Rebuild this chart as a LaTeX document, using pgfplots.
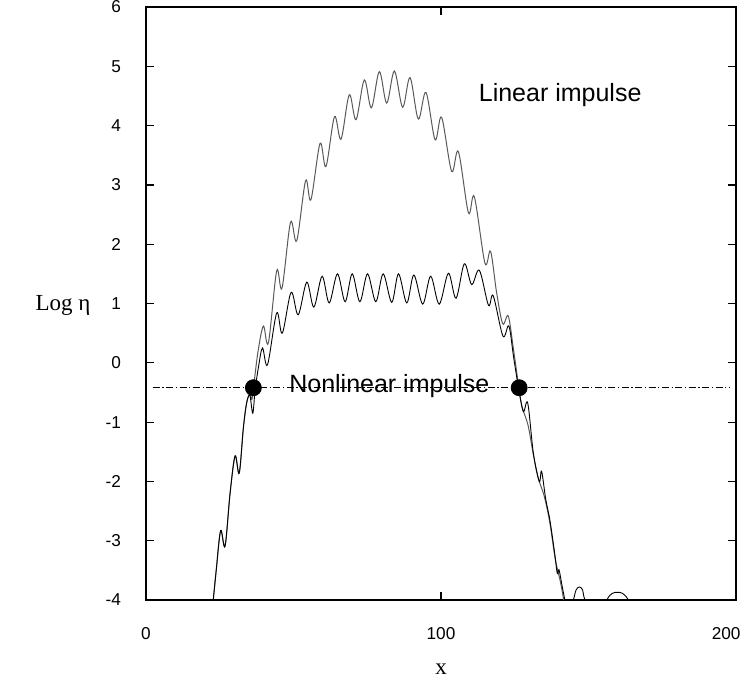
\documentclass[border=0pt]{standalone}
\usepackage{fontspec}
\setmainfont{Liberation Sans}
\newfontfamily\seriffont{Liberation Serif}
\usepackage{pgfplots}
\pgfplotsset{compat=1.18}
\begin{document}
\begin{tikzpicture}
\useasboundingbox (-73pt,-41pt) rectangle (300.5pt,300pt);
\begin{axis}[at={(0,0)}, anchor=south west, scale only axis,
  width=295pt, height=296.5pt,
  xmin=0, xmax=200, ymin=-4, ymax=6,
  xtick={0,100,200}, xticklabels={0,100,{\makebox[0pt][r]{200}\hspace*{-4.5pt}}},
  ytick={-4,-3,...,6},
  tick align=inside, major tick length=4pt,
  axis line style={line width=0.6pt},
  every tick/.append style={line width=0.6pt, black},
  ticklabel style={font=\fontsize{8.6}{10}\selectfont},
  /pgf/number format/assume math mode=true,
  xticklabel style={yshift=-10pt},
  yticklabel style={xshift=-9pt},
]
% Linear impulse
\addplot[black!65, line width=0.5pt, smooth, tension=0.55] coordinates {
(22.8,-4.0) (23.8,-3.5) (25.3,-2.83) (26.8,-3.09) (28.5,-2.2) (30.2,-1.57) (31.6,-1.86)
(33.0,-1.1) (34.1,-0.68) (35.2,-0.52) (35.9,-0.62) (36.6,-0.35) (38.0,0.2)
(39.8,0.62) (41.5,0.34) (44.3,1.55) (46.1,1.26) (49.0,2.37) (51.1,2.06)
(54.1,3.07) (55.9,2.75) (59.0,3.70) (61.0,3.31) (63.9,4.15) (66.1,3.77)
(68.9,4.52) (71.2,4.10) (74.0,4.77) (76.4,4.30) (79.1,4.91) (81.6,4.38)
(84.2,4.92) (87.0,4.31) (89.5,4.81) (92.3,4.11) (94.9,4.56) (98.0,3.76)
(100.2,4.14) (103.6,3.23) (105.9,3.56) (109.3,2.53) (111.3,2.80) (114.9,1.68)
(116.8,1.88) (118.8,1.2) (120.9,0.66) (122.8,0.79) (124.5,0.25) (125.5,-0.1)
(126.4,-0.42) (127.5,-0.75) (129.5,-1.05) (131.3,-1.55) (133.0,-1.95) (135.0,-2.25)
(136.9,-2.7) (138.7,-3.3) (140.5,-3.7) (141.6,-4.0)
};
% Nonlinear impulse
\addplot[black, line width=0.45pt, smooth, tension=0.55] coordinates {
(22.8,-4.0) (23.8,-3.5) (25.3,-2.83) (26.8,-3.09) (28.5,-2.2) (30.2,-1.57) (31.6,-1.86)
(33.0,-1.1) (34.1,-0.68) (35.2,-0.55) (36.2,-0.85) (37.0,-0.45) (38.2,-0.05)
(39.5,0.25) (41.2,-0.03) (44.3,0.84) (46.2,0.50) (49.2,1.19) (51.6,0.81)
(54.5,1.36) (56.9,0.94) (59.7,1.46) (62.1,1.01) (64.9,1.50) (67.5,1.03)
(69.9,1.50) (72.5,1.03) (75.1,1.50) (77.9,1.03) (80.4,1.50) (83.3,1.02)
(85.6,1.50) (88.4,1.01) (90.8,1.48) (93.8,0.99) (96.5,1.46) (99.4,0.99)
(102.5,1.51) (105.1,1.09) (107.9,1.67) (110.4,1.32) (113.0,1.56) (116.1,0.97)
(117.7,1.13) (121.0,0.45) (123.0,0.62) (124.6,0.1) (126.2,-0.40) (127.9,-0.82)
(129.4,-0.68) (131.3,-1.52) (133.3,-2.0) (134.1,-1.83) (135.5,-2.3) (136.9,-2.65)
(138.5,-3.2) (139.4,-3.55) (140.0,-3.49) (141.0,-3.75) (142.0,-4.0) (143.4,-4.3)
(144.9,-4.0) (145.8,-3.83) (146.9,-3.78) (148.0,-3.83) (148.8,-4.0) (152.5,-4.4)
(156.2,-4.0) (158.0,-3.89) (159.8,-3.87) (161.6,-3.89) (163.5,-4.0) (166.0,-4.3)
};
% threshold line
\addplot[black, line width=0.5pt, dash pattern=on 3.5pt off 1.3pt on 0.6pt off 1.3pt]
  coordinates {(2.3,-0.42) (198,-0.42)};
\addplot[only marks, mark=*, mark size=4pt, black] coordinates {(36.4,-0.42) (126.5,-0.42)};
\node[font=\fontsize{12.5}{14}\selectfont] at (axis cs:140.4,4.52) {Linear impulse};
\node[font=\fontsize{12.5}{14}\selectfont] at (axis cs:82.5,-0.40) {Nonlinear impulse};
\end{axis}
\node[font=\seriffont\fontsize{11.5}{13}\selectfont] at (147.5pt,-34.5pt) {x};
\node[font=\seriffont\fontsize{11.5}{13}\selectfont] at (-41.5pt,147.5pt) {Log η};
\end{tikzpicture}
\end{document}
